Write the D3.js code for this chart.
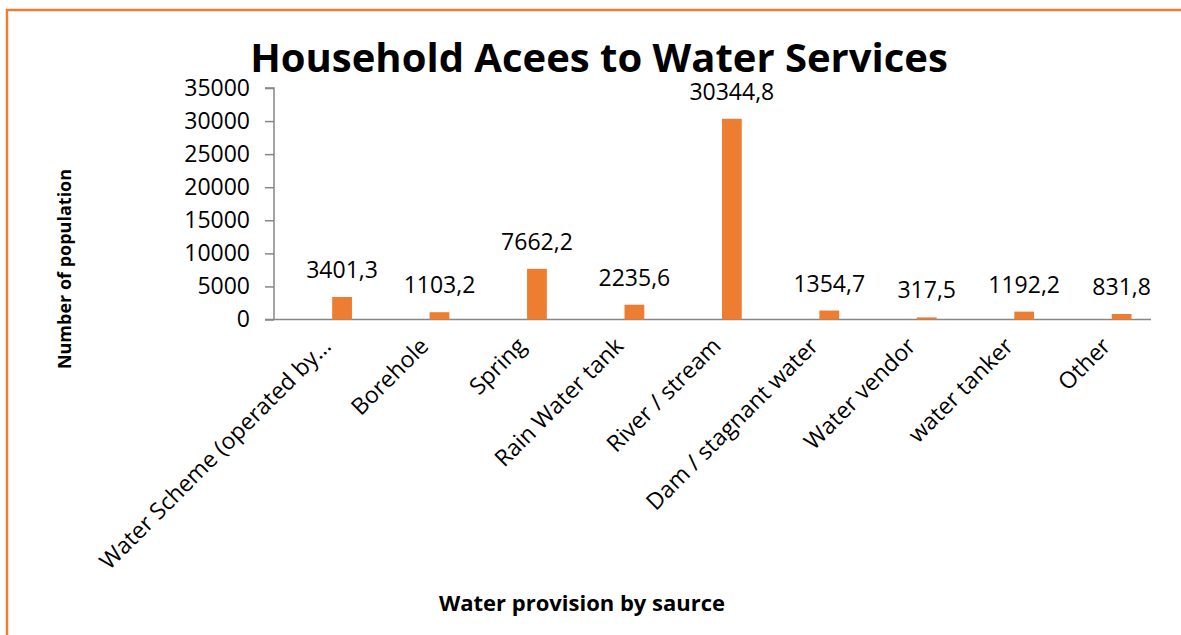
<!DOCTYPE html>
<html>
<head>
<meta charset="utf-8">
<script src="https://cdn.jsdelivr.net/npm/d3@7"></script>
<style>
  html, body { margin: 0; padding: 0; background: #fff; }
  svg { display: block; }
  text { font-family: "Open Sans", "Noto Sans", sans-serif; fill: #000; }
</style>
</head>
<body>
<svg id="chart" width="1181" height="635"></svg>
<script>
const categories = [
  "Water Scheme (operated by\u2026",
  "Borehole",
  "Spring",
  "Rain Water tank",
  "River / stream",
  "Dam / stagnant water",
  "Water vendor",
  "water tanker",
  "Other"
];
const values = [3401.3, 1103.2, 7662.2, 2235.6, 30344.8, 1354.7, 317.5, 1192.2, 831.8];
const valueLabels = ["3401,3", "1103,2", "7662,2", "2235,6", "30344,8", "1354,7", "317,5", "1192,2", "831,8"];
const yTicks = [0, 5000, 10000, 15000, 20000, 25000, 30000, 35000];
const title = "Household Acees to Water Services";
const xTitle = "Water provision by saurce";
const yTitle = "Number of population";

const W = 1181, H = 635;
const plot = { left: 274, right: 1151, top: 88, bottom: 319.5 };
const orange = "#ED7D31";
const axisGray = "#868686";

const svg = d3.select("#chart");

// outer chart border (only top and left visible in the frame)
svg.append("rect")
  .attr("x", 7).attr("y", 10)
  .attr("width", W + 20).attr("height", H + 20)
  .attr("fill", "none")
  .attr("stroke", orange)
  .attr("stroke-width", 2.5);

const x = d3.scaleBand().domain(categories).range([plot.left, plot.right]).paddingInner(0).paddingOuter(0);
const y = d3.scaleLinear().domain([0, 35000]).range([plot.bottom, plot.top]);
const bw = x.bandwidth();

// title
svg.append("text")
  .attr("x", 599).attr("y", 72)
  .attr("text-anchor", "middle")
  .style("font-size", "40px").style("font-weight", "bold")
  .text(title);

// y axis
const yAxis = d3.axisLeft(y).tickValues(yTicks).tickSize(9).tickPadding(15).tickFormat(d3.format("d"));
const gy = svg.append("g").attr("transform", `translate(${plot.left},0)`).call(yAxis);
gy.select(".domain").attr("stroke", axisGray).attr("stroke-width", 1.5).attr("d", `M-9,${plot.top}H0V${plot.bottom}`);
gy.selectAll(".tick line").attr("stroke", axisGray).attr("stroke-width", 1.5);
gy.selectAll(".tick text").style("font-size", "23px").style("font-family", "'Open Sans', sans-serif").attr("fill", "#000");

// x axis
const xAxis = d3.axisBottom(x).tickSize(0).tickPadding(0);
const gx = svg.append("g").attr("transform", `translate(0,${plot.bottom})`).call(xAxis);
gx.select(".domain").attr("stroke", axisGray).attr("stroke-width", 1.5).attr("d", `M${plot.left - 9},0H${plot.right}`);
gx.selectAll(".tick text")
  .style("font-size", "23px").style("font-family", "'Open Sans', sans-serif").attr("fill", "#000")
  .attr("text-anchor", "end")
  .attr("dy", null)
  .attr("y", 0)
  .attr("transform", `translate(${bw * 0.1},28) rotate(-45)`);

// bars
svg.append("g").selectAll("rect")
  .data(categories)
  .join("rect")
  .attr("x", (d) => x(d) + bw * 0.5 + bw * 0.097)
  .attr("width", bw * 0.203)
  .attr("y", (d, i) => y(values[i]))
  .attr("height", (d, i) => y(0) - y(values[i]))
  .attr("fill", orange);

// data labels
svg.append("g").selectAll("text")
  .data(categories)
  .join("text")
  .attr("x", (d) => x(d) + bw * 0.5 + bw * 0.1985)
  .attr("y", (d, i) => y(values[i]) - 19)
  .attr("text-anchor", "middle")
  .style("font-size", "23px")
  .text((d, i) => valueLabels[i]);

// axis titles
svg.append("text")
  .attr("transform", `translate(71,269) rotate(-90)`)
  .attr("text-anchor", "middle")
  .style("font-size", "18px").style("font-weight", "bold")
  .text(yTitle);

svg.append("text")
  .attr("x", 582).attr("y", 611)
  .attr("text-anchor", "middle")
  .style("font-size", "22px").style("font-weight", "bold")
  .text(xTitle);
</script>
</body>
</html>
